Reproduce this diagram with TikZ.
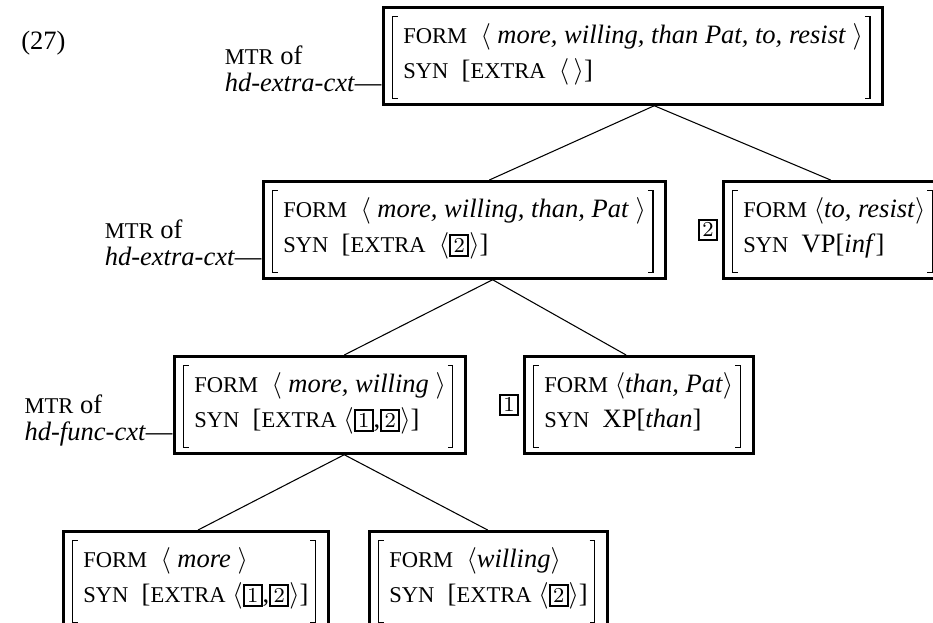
\documentclass[tikz,border=0pt]{standalone}
\usepackage{fontspec}
\setmainfont{Liberation Serif}
\newfontfamily\scfont[Scale=0.85]{Liberation Serif}
\usetikzlibrary{positioning}
\usetikzlibrary{calc}

\setlength{\fboxsep}{0.9pt}
\setlength{\fboxrule}{0.75pt}
\newcommand\feat[1]{{\scfont #1}}
\newcommand\tagno[1]{\fbox{\footnotesize$#1$}}
\newcommand\avmrows[2]{{\renewcommand\arraystretch{1.1}%
  \begin{tabular}{@{}l@{}}\rule{0pt}{10.2pt}#1\\#2\rule[-6.5pt]{0pt}{0pt}\end{tabular}}}
\newcommand\mtrof[1]{{\renewcommand\arraystretch{0.85}%
  \begin{tabular}[b]{@{}l@{}}\feat{MTR} of\\\textit{#1}\textemdash\end{tabular}}}

\tikzset{
  avm/.style={draw, line width=1.1pt, anchor=north west, inner xsep=7.5pt, inner ysep=3.3pt,
    path picture={
      \draw[line width=0.5pt]
        ([shift={(5.3pt,-3.4pt)}]path picture bounding box.north west) -- ++(-1.9pt,0pt)
          |- ([shift={(5.3pt,2.3pt)}]path picture bounding box.south west)
        ([shift={(-6.8pt,-3.4pt)}]path picture bounding box.north east) -- ++(1.9pt,0pt)
          |- ([shift={(-6.8pt,2.3pt)}]path picture bounding box.south east);
    }},
  tagbox/.style={draw, line width=0.75pt, inner sep=1.3pt, font=\footnotesize},
  lbl/.style={inner sep=0pt, anchor=base east},
  branch/.style={line width=0.4pt}
}

\begin{document}
\begin{tikzpicture}[x=0.377pt, y=-0.377pt]
\useasboundingbox (0,0) rectangle (933,623);
\clip (0,0) rectangle (933,623);

\node[anchor=base west] (ex) at (12,50) {(27)};

% mother
\node[avm] (root) at (382,6) {\avmrows
  {\feat{FORM}\enskip$\langle$ \textit{more, willing, than Pat, to, resist} $\rangle$}
  {\feat{SYN}\enskip[\feat{EXTRA}\enskip$\langle\,\rangle$]}};
\node[lbl] (l0) at ($(root.south west)+(0,-14)$) {\mtrof{hd-extra-cxt}};

% daughters
\node[avm] (n1) at (262,180) {\avmrows
  {\feat{FORM}\enskip$\langle$ \textit{more, willing, than, Pat} $\rangle$}
  {\feat{SYN}\enskip[\feat{EXTRA}\enskip$\langle$\tagno{2}$\rangle$]}};
\node[lbl] (l1) at ($(n1.south west)+(0,-14)$) {\mtrof{hd-extra-cxt}};

\node[avm] (n2) at (722,180) {\avmrows
  {\feat{FORM} $\langle$\textit{to, resist}$\rangle$}
  {\feat{SYN}\enskip VP[\textit{inf}]}};
\node[tagbox, left=1.5pt of n2] (t2) {$2$};

\node[avm] (n11) at (173,355) {\avmrows
  {\feat{FORM}\enskip$\langle$ \textit{more, willing} $\rangle$}
  {\feat{SYN}\enskip[\feat{EXTRA} $\langle$\tagno{1},\tagno{2}$\rangle$]}};
\node[lbl] (l11) at ($(n11.south west)+(0,-14)$) {\mtrof{hd-func-cxt}};

\node[avm] (n12) at (523,355) {\avmrows
  {\feat{FORM} $\langle$\textit{than, Pat}$\rangle$}
  {\feat{SYN}\enskip XP[\textit{than}]}};
\node[tagbox, left=1.5pt of n12] (t1) {$1$};

\node[avm] (n111) at (62,530) {\avmrows
  {\feat{FORM}\enskip$\langle$ \textit{more} $\rangle$}
  {\feat{SYN}\enskip[\feat{EXTRA} $\langle$\tagno{1},\tagno{2}$\rangle$]}};

\node[avm] (n112) at (368,530) {\avmrows
  {\feat{FORM}\enskip$\langle$\textit{willing}$\rangle$}
  {\feat{SYN}\enskip[\feat{EXTRA} $\langle$\tagno{2}$\rangle$]}};

% tree lines
\draw[branch] ($(root.south west)!0.542!(root.south east)$) -- ($(n1.north west)!0.561!(n1.north east)$);
\draw[branch] ($(root.south west)!0.542!(root.south east)$) -- ($(n2.north west)!0.483!(n2.north east)$);
\draw[branch] ($(n1.south west)!0.569!(n1.south east)$) -- ($(n11.north west)!0.582!(n11.north east)$);
\draw[branch] ($(n1.south west)!0.569!(n1.south east)$) -- ($(n12.north west)!0.445!(n12.north east)$);
\draw[branch] ($(n11.south west)!0.582!(n11.south east)$) -- ($(n111.north west)!0.508!(n111.north east)$);
\draw[branch] ($(n11.south west)!0.582!(n11.south east)$) -- ($(n112.north west)!0.496!(n112.north east)$);

\end{tikzpicture}
\end{document}
